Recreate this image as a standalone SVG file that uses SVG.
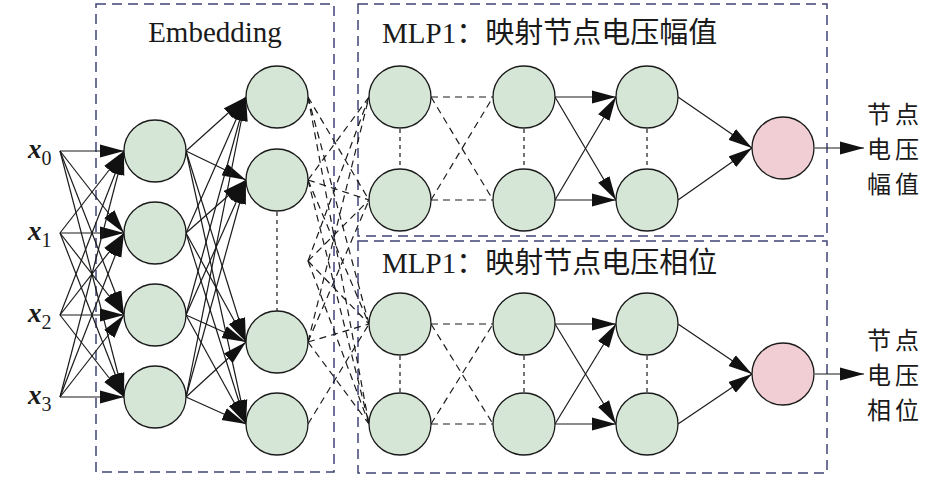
<svg xmlns="http://www.w3.org/2000/svg" width="945" height="479" viewBox="0 0 945 479">
<style>
.box{fill:none;stroke:#3f4477;stroke-width:1.5;stroke-dasharray:10 6}
.n{fill:#d6e6d6;stroke:#1a1a1a;stroke-width:1.3}
.o{fill:#f0ced3;stroke:#1a1a1a;stroke-width:1.3}
.a{stroke:#1a1a1a;stroke-width:1.2;fill:none;marker-end:url(#ah)}
.d{stroke:#1a1a1a;stroke-width:1.2;fill:none;stroke-dasharray:7 5}
.dot{stroke:#1a1a1a;stroke-width:1.2;fill:none;stroke-dasharray:4 4}
.t{font-family:"Liberation Serif","Noto Sans CJK SC",serif;font-size:29px;fill:#1a1a1a}
.c{font-family:"Noto Sans CJK SC",sans-serif;font-size:24px;letter-spacing:4px;fill:#1a1a1a}
.x{font-family:"Liberation Serif",serif;font-size:27px;font-weight:bold;font-style:italic;fill:#1a1a1a}
.s{font-size:20px;font-weight:normal;font-style:normal}
</style>
<defs>
<marker id="ah" markerUnits="userSpaceOnUse" markerWidth="25" markerHeight="14" refX="24" refY="7" orient="auto">
<path d="M0,0.5 L24,7 L0,13.5 Z" fill="#111"/>
</marker>
</defs>

<g id="boxes">
<rect class="box" x="96" y="4" width="238" height="468"/>
<rect class="box" x="358" y="4" width="469" height="232"/>
<rect class="box" x="358" y="241" width="469" height="232"/>
</g>

<g id="labels">
<text class="t" x="215" y="42" text-anchor="middle">Embedding</text>
<text class="t" x="382" y="43">MLP1：映射节点电压幅值</text>
<text class="t" x="382" y="273">MLP1：映射节点电压相位</text>
<text class="x" x="28" y="158">x<tspan class="s" dy="7">0</tspan></text>
<text class="x" x="28" y="240">x<tspan class="s" dy="7">1</tspan></text>
<text class="x" x="28" y="322">x<tspan class="s" dy="7">2</tspan></text>
<text class="x" x="28" y="404">x<tspan class="s" dy="7">3</tspan></text>
<text class="c" x="867" y="123">节点</text>
<text class="c" x="867" y="158">电压</text>
<text class="c" x="867" y="193">幅值</text>
<text class="c" x="867" y="349">节点</text>
<text class="c" x="867" y="384">电压</text>
<text class="c" x="867" y="419">相位</text>
</g>

<g id="connectors">
<!-- inputs to embedding layer 1 -->
<line class="a" x1="60" y1="151" x2="124" y2="151"/>
<line class="a" x1="60" y1="151" x2="124" y2="233"/>
<line class="a" x1="60" y1="151" x2="124" y2="315"/>
<line class="a" x1="60" y1="151" x2="124" y2="397"/>
<line class="a" x1="60" y1="233" x2="124" y2="151"/>
<line class="a" x1="60" y1="233" x2="124" y2="233"/>
<line class="a" x1="60" y1="233" x2="124" y2="315"/>
<line class="a" x1="60" y1="233" x2="124" y2="397"/>
<line class="a" x1="60" y1="315" x2="124" y2="151"/>
<line class="a" x1="60" y1="315" x2="124" y2="233"/>
<line class="a" x1="60" y1="315" x2="124" y2="315"/>
<line class="a" x1="60" y1="315" x2="124" y2="397"/>
<line class="a" x1="60" y1="397" x2="124" y2="151"/>
<line class="a" x1="60" y1="397" x2="124" y2="233"/>
<line class="a" x1="60" y1="397" x2="124" y2="315"/>
<line class="a" x1="60" y1="397" x2="124" y2="397"/>
<!-- embedding layer 1 to layer 2 -->
<line class="a" x1="186" y1="151" x2="246" y2="97"/>
<line class="a" x1="186" y1="151" x2="246" y2="180"/>
<line class="a" x1="186" y1="151" x2="246" y2="342"/>
<line class="a" x1="186" y1="151" x2="246" y2="424"/>
<line class="a" x1="186" y1="233" x2="246" y2="97"/>
<line class="a" x1="186" y1="233" x2="246" y2="180"/>
<line class="a" x1="186" y1="233" x2="246" y2="342"/>
<line class="a" x1="186" y1="233" x2="246" y2="424"/>
<line class="a" x1="186" y1="315" x2="246" y2="97"/>
<line class="a" x1="186" y1="315" x2="246" y2="180"/>
<line class="a" x1="186" y1="315" x2="246" y2="342"/>
<line class="a" x1="186" y1="315" x2="246" y2="424"/>
<line class="a" x1="186" y1="397" x2="246" y2="97"/>
<line class="a" x1="186" y1="397" x2="246" y2="180"/>
<line class="a" x1="186" y1="397" x2="246" y2="342"/>
<line class="a" x1="186" y1="397" x2="246" y2="424"/>
<line class="dot" x1="277" y1="212" x2="277" y2="311"/>
<!-- embedding to MLP first layers (dashed) -->
<line class="d" x1="308" y1="97" x2="369" y2="200"/>
<line class="d" x1="308" y1="97" x2="369" y2="324"/>
<line class="d" x1="308" y1="97" x2="369" y2="424"/>
<line class="d" x1="308" y1="180" x2="369" y2="97"/>
<line class="d" x1="308" y1="180" x2="369" y2="200"/>
<line class="d" x1="308" y1="180" x2="369" y2="324"/>
<line class="d" x1="308" y1="180" x2="369" y2="424"/>
<line class="d" x1="308" y1="261" x2="369" y2="97"/>
<line class="d" x1="308" y1="261" x2="369" y2="200"/>
<line class="d" x1="308" y1="261" x2="369" y2="324"/>
<line class="d" x1="308" y1="261" x2="369" y2="424"/>
<line class="d" x1="308" y1="342" x2="369" y2="97"/>
<line class="d" x1="308" y1="342" x2="369" y2="200"/>
<line class="d" x1="308" y1="342" x2="369" y2="324"/>
<line class="d" x1="308" y1="342" x2="369" y2="424"/>
<line class="d" x1="308" y1="424" x2="369" y2="324"/>
<!-- MLP top -->
<line class="d" x1="431" y1="97" x2="493" y2="97"/>
<line class="d" x1="431" y1="97" x2="493" y2="200"/>
<line class="d" x1="431" y1="200" x2="493" y2="97"/>
<line class="d" x1="431" y1="200" x2="493" y2="200"/>
<line class="dot" x1="400" y1="129" x2="400" y2="169"/>
<line class="dot" x1="524" y1="129" x2="524" y2="169"/>
<line class="dot" x1="647" y1="129" x2="647" y2="169"/>
<line class="a" x1="555" y1="97" x2="616" y2="97"/>
<line class="a" x1="555" y1="97" x2="616" y2="200"/>
<line class="a" x1="555" y1="200" x2="616" y2="97"/>
<line class="a" x1="555" y1="200" x2="616" y2="200"/>
<line class="a" x1="678" y1="97" x2="752" y2="148"/>
<line class="a" x1="678" y1="200" x2="752" y2="148"/>
<line class="a" x1="815" y1="148" x2="864" y2="148"/>
<!-- MLP bottom -->
<line class="d" x1="431" y1="324" x2="493" y2="324"/>
<line class="d" x1="431" y1="324" x2="493" y2="424"/>
<line class="d" x1="431" y1="424" x2="493" y2="324"/>
<line class="d" x1="431" y1="424" x2="493" y2="424"/>
<line class="dot" x1="400" y1="356" x2="400" y2="393"/>
<line class="dot" x1="524" y1="356" x2="524" y2="393"/>
<line class="dot" x1="647" y1="356" x2="647" y2="393"/>
<line class="a" x1="555" y1="324" x2="616" y2="324"/>
<line class="a" x1="555" y1="324" x2="616" y2="424"/>
<line class="a" x1="555" y1="424" x2="616" y2="324"/>
<line class="a" x1="555" y1="424" x2="616" y2="424"/>
<line class="a" x1="678" y1="324" x2="752" y2="374"/>
<line class="a" x1="678" y1="424" x2="752" y2="374"/>
<line class="a" x1="815" y1="374" x2="864" y2="374"/>
</g>

<g id="emb1">
<circle class="n" id="e1a" cx="155" cy="151" r="31"/>
<circle class="n" id="e1b" cx="155" cy="233" r="31"/>
<circle class="n" id="e1c" cx="155" cy="315" r="31"/>
<circle class="n" id="e1d" cx="155" cy="397" r="31"/>
</g>
<g id="emb2">
<circle class="n" id="e2a" cx="277" cy="97" r="31"/>
<circle class="n" id="e2b" cx="277" cy="180" r="31"/>
<circle class="n" id="e2c" cx="277" cy="342" r="31"/>
<circle class="n" id="e2d" cx="277" cy="424" r="31"/>
</g>
<g id="mlp1">
<circle class="n" cx="400" cy="97" r="31"/>
<circle class="n" cx="400" cy="200" r="31"/>
<circle class="n" cx="524" cy="97" r="31"/>
<circle class="n" cx="524" cy="200" r="31"/>
<circle class="n" cx="647" cy="97" r="31"/>
<circle class="n" cx="647" cy="200" r="31"/>
<circle class="o" cx="783" cy="148" r="31"/>
</g>
<g id="mlp2">
<circle class="n" cx="400" cy="324" r="31"/>
<circle class="n" cx="400" cy="424" r="31"/>
<circle class="n" cx="524" cy="324" r="31"/>
<circle class="n" cx="524" cy="424" r="31"/>
<circle class="n" cx="647" cy="324" r="31"/>
<circle class="n" cx="647" cy="424" r="31"/>
<circle class="o" cx="783" cy="374" r="31"/>
</g>
</svg>
